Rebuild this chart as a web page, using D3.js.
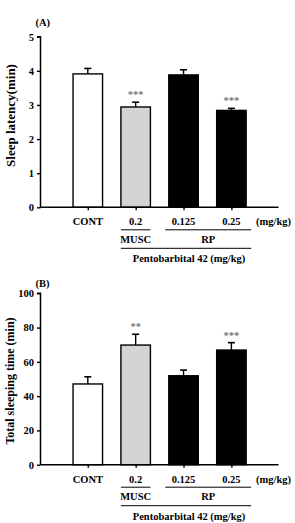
<!DOCTYPE html>
<html><head><meta charset="utf-8">
<script src="https://cdn.jsdelivr.net/npm/d3@7"></script>
<style>
html,body{margin:0;padding:0;background:#fff;}
svg{display:block;}
svg text{font-family:"Liberation Serif","Times New Roman",serif;font-weight:bold;}
</style></head>
<body><svg id="chart" width="295" height="523"></svg>
<script>
// ---- data ----
const categories = ["CONT", "0.2", "0.125", "0.25"];
const barFills = ["#ffffff", "#d4d4d4", "#000000", "#000000"];
const latencyValues = [3.91, 2.94, 3.88, 2.84];
const latencyErrors = [0.16, 0.14, 0.15, 0.06];
const latencySignif = ["", "***", "", "***"];
const latencyTicks = [0, 1, 2, 3, 4, 5];
const sleepValues = [47.1, 69.8, 51.9, 66.9];
const sleepErrors = [4.2, 6.3, 3.3, 4.3];
const sleepSignif = ["", "**", "", "***"];
const sleepTicks = [0, 20, 40, 60, 80, 100];
const groupLabels = [{label: "MUSC", from: "0.2", to: "0.2"}, {label: "RP", from: "0.125", to: "0.25"}];
const outerLabel = "Pentobarbital 42 (mg/kg)";
const unitLabel = "(mg/kg)";

const svg = d3.select("#chart");
const x = d3.scalePoint().domain(categories).range([87.8, 231.4]);
const barW = 29.5;

function panel(opt) {
  const g = svg.append("g");
  const y = d3.scaleLinear().domain(opt.domain).range([opt.bottom, opt.top]);
  const axisX = 40.5;
  // bars
  g.selectAll("rect.bar").data(categories).enter().append("rect")
    .attr("x", d => x(d) - barW / 2)
    .attr("y", (d, i) => y(opt.values[i]))
    .attr("width", barW)
    .attr("height", (d, i) => y(0) - y(opt.values[i]))
    .attr("fill", (d, i) => barFills[i])
    .attr("stroke", "#000").attr("stroke-width", 1.4);
  // error bars
  categories.forEach((c, i) => {
    const top = y(opt.values[i] + opt.errors[i]);
    g.append("line").attr("x1", x(c)).attr("x2", x(c))
      .attr("y1", y(opt.values[i])).attr("y2", top)
      .attr("stroke", "#000").attr("stroke-width", 1.4);
    g.append("line").attr("x1", x(c) - 3.5).attr("x2", x(c) + 3.5)
      .attr("y1", top).attr("y2", top)
      .attr("stroke", "#000").attr("stroke-width", 1.6);
    if (opt.signif[i]) {
      g.append("text").attr("x", x(c)).attr("y", top - 4)
        .attr("text-anchor", "middle").attr("font-size", 10.5)
        .attr("fill", "#777").text(opt.signif[i]);
    }
  });
  // y axis
  const yAxis = d3.axisLeft(y).tickValues(opt.ticks).tickSize(3.5).tickPadding(3).tickFormat(d3.format("d"));
  const ya = g.append("g").attr("transform", `translate(${axisX},0)`).call(yAxis);
  ya.attr("font-family", null).attr("font-size", null);
  ya.select(".domain").attr("stroke-width", 1.5).attr("d", `M-3.5,${opt.top}H0V${opt.bottom}`);
  ya.selectAll(".tick line").attr("stroke-width", 1.4);
  ya.selectAll(".tick text").attr("font-size", 10.5).attr("fill", "#000");
  // x axis baseline
  const xa = d3.axisBottom(x).tickSize(3).tickFormat("");
  const xg = g.append("g").attr("transform", `translate(0,${opt.bottom})`).call(xa);
  xg.select(".domain").attr("d", `M${axisX},0H278.5`).attr("stroke-width", 1.5);
  xg.selectAll(".tick line").attr("stroke-width", 1.4);
  // category labels
  const ly = opt.bottom + opt.labelDy;
  g.selectAll("text.cat").data(categories).enter().append("text")
    .attr("x", d => x(d)).attr("y", ly).attr("text-anchor", "middle")
    .attr("font-size", 10.5).text(d => d);
  g.append("text").attr("x", 256).attr("y", ly).attr("font-size", 10.5).text(unitLabel);
  // group lines & labels
  const l1 = ly + 4.5;
  groupLabels.forEach(gl => {
    const single = gl.from === gl.to;
    const x1 = x(gl.from) - barW / 2 - (single ? 0 : 3.5);
    const x2 = x(gl.to) + barW / 2 + (single ? 0 : 5);
    g.append("line").attr("x1", x1).attr("x2", x2).attr("y1", l1).attr("y2", l1)
      .attr("stroke", "#000").attr("stroke-width", 1);
    g.append("text").attr("x", (x1 + x2) / 2).attr("y", ly + 17.5)
      .attr("text-anchor", "middle").attr("font-size", 10.5).text(gl.label);
  });
  const l2 = ly + 23;
  const ox1 = x(categories[1]) - barW / 2, ox2 = x(categories[3]) + barW / 2 + 5;
  g.append("line").attr("x1", ox1).attr("x2", ox2).attr("y1", l2).attr("y2", l2)
    .attr("stroke", "#000").attr("stroke-width", 1);
  g.append("text").attr("x", (ox1 + ox2) / 2 + 3).attr("y", ly + 37)
    .attr("text-anchor", "middle").attr("font-size", 10.5).text(outerLabel);
  // panel letter
  g.append("text").attr("x", 35.5).attr("y", opt.letterY).attr("font-size", 10.5).text(opt.letter);
  // y title
  g.append("text").attr("transform", `translate(${opt.titleX},${opt.titleY}) rotate(-90)`)
    .attr("text-anchor", "middle").attr("font-size", opt.titleSize).text(opt.title);
}

panel({values: latencyValues, errors: latencyErrors, signif: latencySignif, ticks: latencyTicks,
  domain: [0, 5], top: 36.7, bottom: 207.3, labelDy: 18, letter: "(A)", letterY: 26,
  title: "Sleep latency(min)", titleX: 14.5, titleY: 115.5, titleSize: 13});
panel({values: sleepValues, errors: sleepErrors, signif: sleepSignif, ticks: sleepTicks,
  domain: [0, 100], top: 293.3, bottom: 464.7, labelDy: 18, letter: "(B)", letterY: 286.5,
  title: "Total sleeping time (min)", titleX: 14, titleY: 381, titleSize: 12});
</script></body></html>
